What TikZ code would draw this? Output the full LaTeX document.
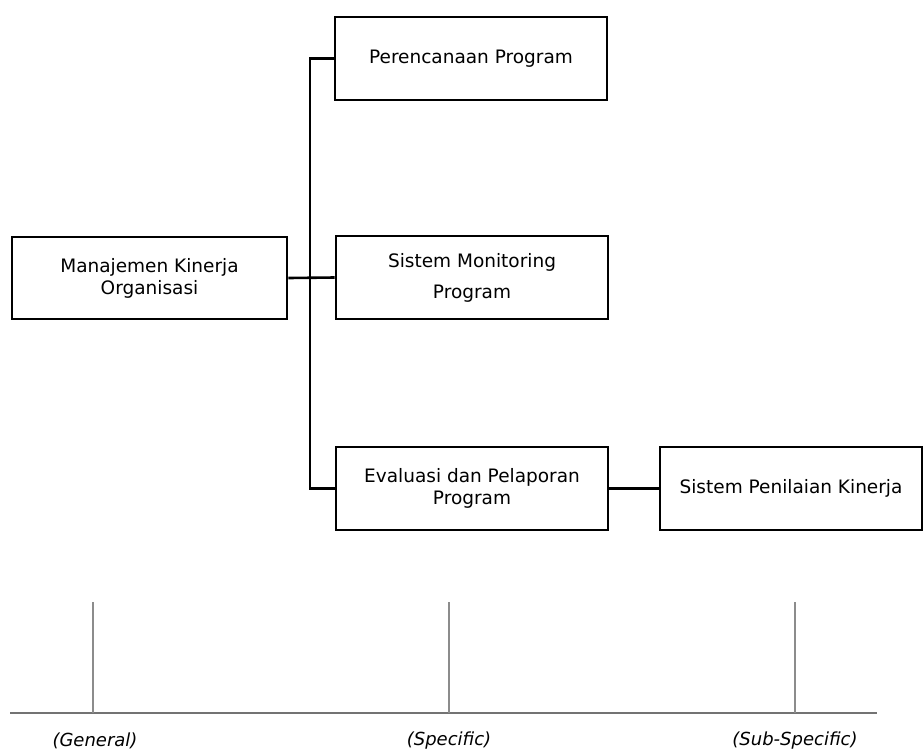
\documentclass[tikz,border=0pt]{standalone}
\usepackage{fontspec}
\setmainfont{DejaVu Sans}
\begin{document}
\begin{tikzpicture}[x=1pt,y=-1pt,
  box/.style={draw=black,line width=2.6pt,rectangle,minimum width=272pt,minimum height=83pt,
    align=center,inner sep=0pt,font=\fontsize{18.5}{22}\selectfont},
  link/.style={draw=black,line width=2.6pt},
  axis/.style={draw=black!55,line width=2pt},
  tick/.style={draw=black!45,line width=1.4pt},
  level/.style={font=\fontsize{18}{22}\selectfont\itshape,inner sep=0pt}]
\useasboundingbox (0,0) rectangle (924,753);

% boxes of the hierarchy
\node[box,minimum width=275pt,minimum height=82pt] (man) at (149.5,278) {Manajemen Kinerja\\Organisasi};
\node[box] (per) at (471,58.5) {Perencanaan Program};
\node[box] (mon) at (472,277.5) {Sistem Monitoring\\[9pt]Program};
\node[box] (eva) at (472,488.5) {Evaluasi dan Pelaporan\\Program};
\node[box,minimum width=262pt] (pen) at (791,488.5) {Sistem Penilaian Kinerja};

% connectors
\coordinate (trunk) at (310,0);
\draw[link] (per.west) -- (per.west -| trunk) -- (eva.west -| trunk) -- (eva.west);
\draw[link] (man.east) -- (mon.west);
\draw[link] (eva.east) -- (pen.west);

% level scale
\coordinate (a0) at (10,713);
\coordinate (a1) at (877,713);
\coordinate (t1) at (93,602);
\coordinate (t2) at (449,602);
\coordinate (t3) at (795,602);
\draw[axis] (a0) -- (a1);
\draw[tick] (t1) -- (t1 |- a0);
\draw[tick] (t2) -- (t2 |- a0);
\draw[tick] (t3) -- (t3 |- a0);
\node[level] (l1) at (95,741) {(General)};
\node[level] (l2) at (449,741) {(Specific)};
\node[level] (l3) at (795,741) {(Sub-Specific)};
\end{tikzpicture}
\end{document}
